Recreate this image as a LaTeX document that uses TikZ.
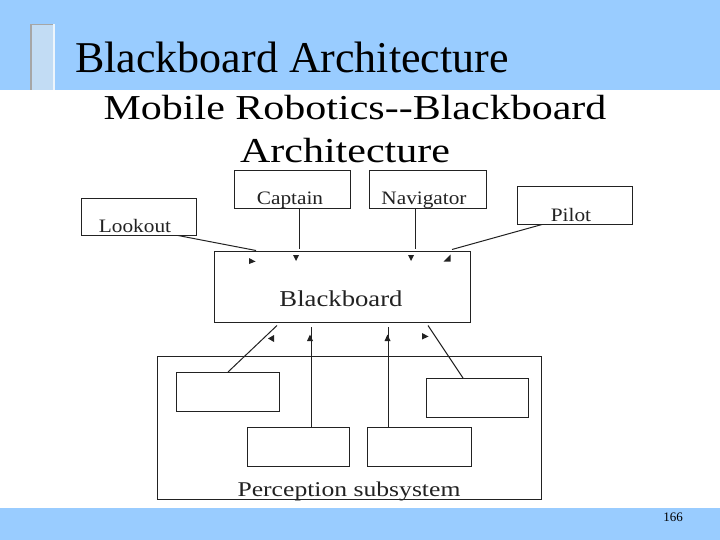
\documentclass[tikz,border=0pt]{standalone}
\usepackage{fontspec}
\setmainfont{Liberation Serif}
\definecolor{band}{HTML}{99CCFF}
\definecolor{barc}{HTML}{C2DCF4}
\definecolor{ink}{HTML}{222222}
\tikzset{
  box/.style={draw=ink, line width=1.1pt, rectangle, anchor=north west, inner sep=0pt},
  lbl/.style={inner sep=0pt, anchor=base, text=ink, font=\fontsize{19}{22}\selectfont, xscale=1.12},
  conn/.style={draw=ink, line width=1pt},
  tipmark/.style={fill=ink},
}
\begin{document}
\begin{tikzpicture}[x=1pt,y=-1pt]
\useasboundingbox (0,0) rectangle (720,540);
% background bands
\fill[white] (0,0) rectangle (720,540);
\fill[band] (0,0) rectangle (720,90);
\fill[band] (0,508) rectangle (720,540);
\fill[barc] (30,24) rectangle (53,90);
\draw[black!35, line width=1.5pt] (30.75,90) -- (30.75,24.75) -- (53,24.75);
\fill[white!70!barc] (53,24) rectangle (55,90);
% titles
\node[inner sep=0pt, anchor=base west, font=\fontsize{44}{48}\selectfont] (title) at (75,73) {Blackboard Architecture};
\node[inner sep=0pt, anchor=base, font=\fontsize{35}{40}\selectfont, xscale=1.2] (sub1) at (355,120) {Mobile Robotics{-}{-}Blackboard};
\node[inner sep=0pt, anchor=base, font=\fontsize{35}{40}\selectfont, xscale=1.2] (sub2) at (345,163) {Architecture};
% top boxes
\node[box, minimum width=116pt, minimum height=38pt] (captain) at (234,170) {};
\node[box, minimum width=117pt, minimum height=38pt] (navigator) at (369,170) {};
\node[box, minimum width=115pt, minimum height=37pt] (lookout) at (81,198) {};
\node[box, minimum width=115pt, minimum height=38pt] (pilot) at (517,186) {};
\node[lbl] (captaint) at (290,205) {Captain};
\node[lbl] (navigatort) at (424,205) {Navigator};
\node[lbl] (lookoutt) at (135,233) {Lookout};
\node[lbl] (pilott) at (571,222) {Pilot};
% blackboard
\node[box, minimum width=256pt, minimum height=71pt] (bb) at (214,251) {};
\node[lbl, font=\fontsize{22.7}{26}\selectfont, xscale=1.05] (bbt) at (341,306.5) {Blackboard};
% perception subsystem
\node[box, minimum width=384pt, minimum height=143pt] (perc) at (157,356) {};
\node[lbl, font=\fontsize{21}{24}\selectfont, xscale=1.09] (perct) at (349,496.5) {Perception subsystem};
\node[box, minimum width=103pt, minimum height=39pt] (s1) at (176,372) {};
\node[box, minimum width=102pt, minimum height=39pt] (s2) at (426,378) {};
\node[box, minimum width=102pt, minimum height=39pt] (s3) at (247,427) {};
\node[box, minimum width=104pt, minimum height=39pt] (s4) at (367,427) {};
% connectors top
\coordinate (lk1) at (178,235.5);
\coordinate (lk2) at (256,250.5);
\draw[conn] (lk1) -- (lk2);
\draw[conn] (captain.south -| 299,0) -- (299,249);
\draw[conn] (navigator.south -| 415,0) -- (415,249);
\coordinate (pl1) at (542,224.5);
\coordinate (pl2) at (452,249.5);
\draw[conn] (pl1) -- (pl2);
% arrow heads (top)
\fill[tipmark] (249,258) -- (255.5,261.5) -- (249,264) -- cycle;
\fill[tipmark] (293,255) -- (299,255) -- (296,261) -- cycle;
\fill[tipmark] (408,255) -- (414,255) -- (411,261) -- cycle;
\fill[tipmark] (443.5,261.5) -- (450.5,261.5) -- (450.5,254.5) -- cycle;
% connectors bottom
\coordinate (b1a) at (228,372);
\coordinate (b1b) at (277,325.5);
\draw[conn] (b1a) -- (b1b);
\draw[conn] (s3.north -| 311,0) -- (311,327);
\draw[conn] (s4.north -| 388,0) -- (388,327);
\coordinate (b2a) at (463,378);
\coordinate (b2b) at (428,325.5);
\draw[conn] (b2a) -- (b2b);
% arrow heads (bottom)
\fill[tipmark] (268,338.5) -- (274,335) -- (274,342) -- cycle;
\fill[tipmark] (307,341) -- (313,341) -- (310,334.5) -- cycle;
\fill[tipmark] (384.5,341) -- (390.5,341) -- (387.5,334.5) -- cycle;
\fill[tipmark] (422,333) -- (428.5,336.5) -- (422,339.5) -- cycle;
% page number
\node[inner sep=0pt, anchor=base, font=\fontsize{13}{15}\selectfont] (pnum) at (673,521) {166};
\end{tikzpicture}
\end{document}
